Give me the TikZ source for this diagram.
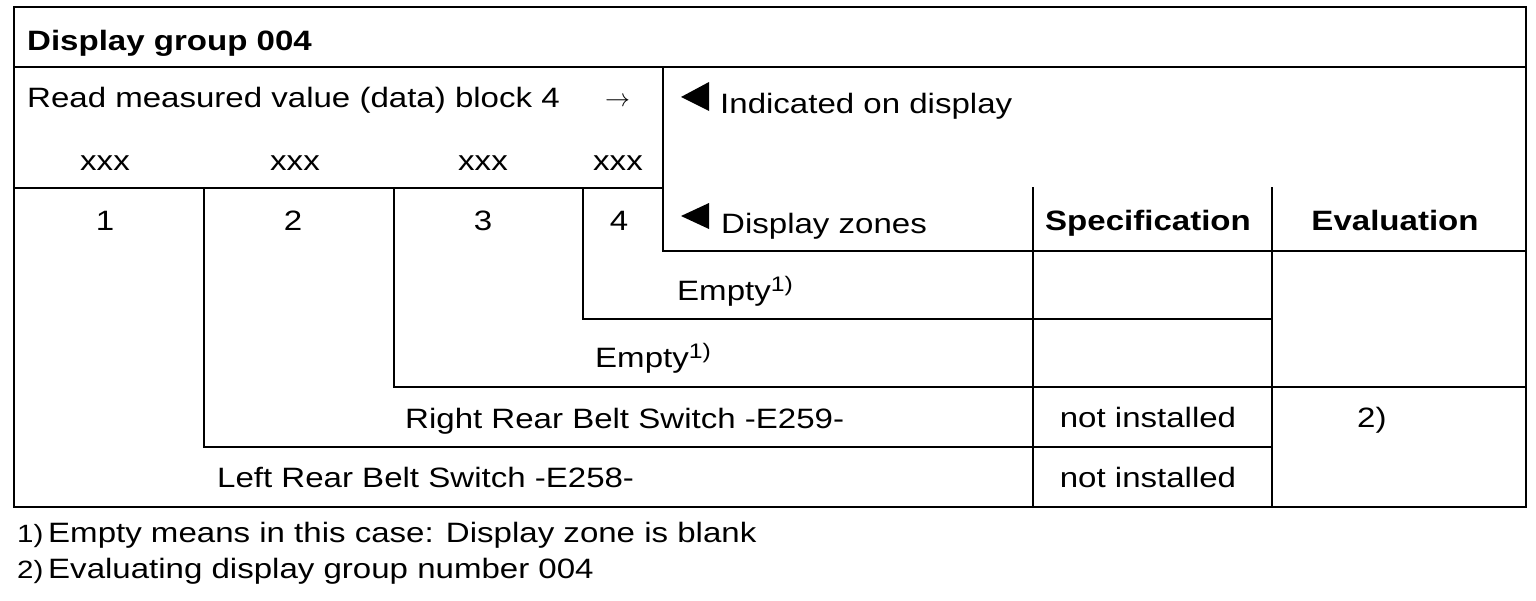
\documentclass[tikz,border=0pt]{standalone}
\usepackage{fontspec}
\setmainfont{Liberation Sans}[FakeStretch=1.18]
\newcommand{\mainsize}{\fontsize{28}{34}\selectfont}
\newcommand{\supone}{{\fontsize{21}{22}\selectfont\raisebox{9pt}{1)}}}
\begin{document}
\begin{tikzpicture}[x=1pt,y=-1pt,
  rule/.style={line width=2.6pt, line cap=rect, line join=miter},
  txt/.style={inner sep=0pt, font=\mainsize},
  bold/.style={inner sep=0pt, font=\mainsize\bfseries},
  fn/.style={inner sep=0pt, font=\fontsize{25}{28}\selectfont},
  tri/.style={fill=black, draw=none}]
\useasboundingbox (0,0) rectangle (1536,600);
% frame and rules
\draw[rule] (14,7) rectangle (1526,507);
\draw[rule] (14,67) -- (1526,67);
\draw[rule] (663,67) -- (663,251) -- (1526,251);
\draw[rule] (14,188) -- (663,188);
\draw[rule] (1033,188) -- (1033,507);
\draw[rule] (1272,188) -- (1272,507);
\draw[rule] (583,188) -- (583,319) -- (1272,319);
\draw[rule] (394,188) -- (394,387) -- (1526,387);
\draw[rule] (204,188) -- (204,447) -- (1272,447);
% triangles
\fill[tri] (681,97) -- (709,82) -- (709,111) -- cycle;
\fill[tri] (681,216) -- (709,203) -- (709,229) -- cycle;
% texts
\node[bold, anchor=base west] (title) at (27,50) {Display group 004};
\node[txt, anchor=base west] (read) at (27,107) {Read measured value (data) block 4};
\node[inner sep=0pt, font=\fontsize{26}{28}\selectfont, anchor=base west] (arr) at (605,106) {$\rightarrow$};
\node[txt, anchor=base] (x1) at (105,170) {xxx};
\node[txt, anchor=base] (x2) at (295,170) {xxx};
\node[txt, anchor=base] (x3) at (483,170) {xxx};
\node[txt, anchor=base] (x4) at (618,170) {xxx};
\node[txt, anchor=base] (n1) at (105,230) {1};
\node[txt, anchor=base] (n2) at (293,230) {2};
\node[txt, anchor=base] (n3) at (483,230) {3};
\node[txt, anchor=base] (n4) at (619,230) {4};
\node[txt, anchor=base west] (ind) at (720,113) {Indicated on display};
\node[txt, anchor=base west] (zones) at (721,233) {Display zones};
\node[bold, anchor=base] (spec) at (1148,230) {Specification};
\node[bold, anchor=base] (eval) at (1395,230) {Evaluation};
\node[txt, anchor=base west] (e1) at (677,300) {Empty\supone};
\node[txt, anchor=base west] (e2) at (595,367) {Empty\supone};
\node[txt, anchor=base west] (rr) at (405,428) {Right Rear Belt Switch -E259-};
\node[txt, anchor=base] (ni1) at (1148,427) {not installed};
\node[txt, anchor=base west] (two) at (1357,427) {2)};
\node[txt, anchor=base west] (lr) at (217,487) {Left Rear Belt Switch -E258-};
\node[txt, anchor=base] (ni2) at (1148,487) {not installed};
% footnotes
\node[fn, anchor=base west] (f1n) at (17,542) {1)};
\node[txt, anchor=base west] (f1) at (48,542) {Empty means in this case: Display zone is blank};
\node[fn, anchor=base west] (f2n) at (17,578) {2)};
\node[txt, anchor=base west] (f2) at (48,578) {Evaluating display group number 004};
\end{tikzpicture}
\end{document}
